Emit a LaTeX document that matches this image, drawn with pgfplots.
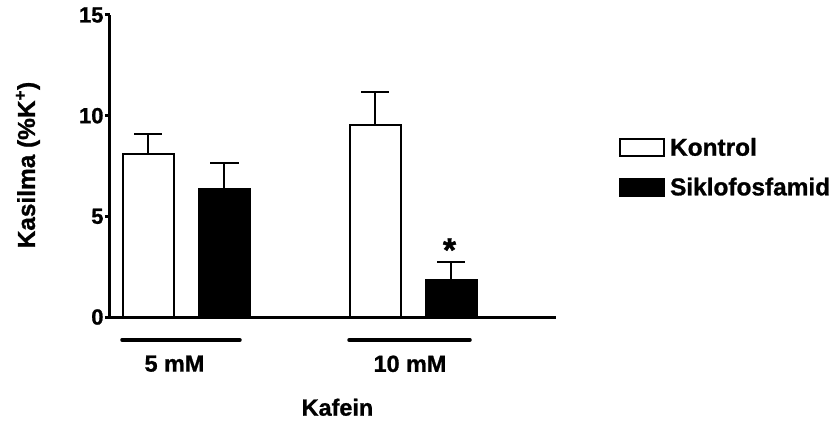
\documentclass[border=0pt]{standalone}
\usepackage{fontspec}
\setmainfont{Liberation Sans}[BoldFeatures={FakeBold=1}]
\usepackage{pgfplots}
\pgfplotsset{compat=1.18}
\begin{document}
\begin{tikzpicture}[x=1bp,y=1bp]
\path[use as bounding box] (-110bp,-108bp) rectangle (724bp,317bp);
\begin{axis}[
  at={(0,0)}, anchor=south west,
  scale only axis, width=446bp, height=302bp,
  xmin=0, xmax=446, ymin=0, ymax=15,
  axis lines*=left,
  axis line style={line width=3bp, -},
  ytick={0,5,10,15},
  xtick={64.5,300}, xticklabels={5 mM,10 mM},
  x tick label style={font=\fontsize{23.5}{25}\selectfont\bfseries, yshift=-30bp},
  y tick label style={font=\fontsize{22}{24}\selectfont\bfseries, xshift=2bp},
  /pgf/number format/assume math mode=true,
  tick align=outside,
  major tick length=5bp,
  major tick style={line width=3bp, black},
  x tick style={draw=none},
  ylabel={Kasilma (\%K\textsuperscript{+})},
  ylabel style={font=\fontsize{24.5}{26}\selectfont\bfseries, at={(axis description cs:-0.184,0.503)}, anchor=center},
  xlabel={Kafein},
  xlabel style={font=\fontsize{23.5}{25}\selectfont\bfseries, at={(axis description cs:0.510,-0.299)}, anchor=center},
  clip=false,
  axis on top,
  legend style={draw=none, fill=none, at={(axis description cs:1.141,0.600)}, anchor=north west,
    font=\fontsize{24.5}{26}\selectfont\bfseries, row sep=16.5bp, inner sep=0pt},
  legend cell align=left,
  legend image code/.code={\draw[#1, line width=2bp] (0bp,-8.5bp) rectangle (44bp,8.5bp); \path (47bp,0bp);},
]
\addplot[ybar, bar width=51, bar shift=0pt, draw=black, fill=white, line width=2bp,
  error bars/.cd, y dir=plus, y explicit,
  error bar style={line width=2bp, black},
  error mark options={rotate=90, mark size=14bp, line width=2bp, black}]
  coordinates {(38.5,8.09) +- (0,1.0) (265,9.53) +- (0,1.67)};
\addlegendentry{Kontrol}
\addplot[ybar, bar width=51, bar shift=0pt, draw=black, fill=black, line width=2bp,
  error bars/.cd, y dir=plus, y explicit,
  error bar style={line width=2bp, black},
  error mark options={rotate=90, mark size=14bp, line width=2bp, black}]
  coordinates {(114.5,6.35) +- (0,1.29) (341,1.84) +- (0,0.89)};
\addlegendentry{Siklofosfamid}
\draw[line width=3.5bp, line cap=round] (axis cs:12,-1.14) -- (axis cs:130,-1.14);
\draw[line width=3.5bp, line cap=round] (axis cs:239,-1.14) -- (axis cs:360,-1.14);
\node[font=\fontsize{34}{34}\selectfont\bfseries] at (axis cs:339.5,3.33) {*};
\end{axis}
\end{tikzpicture}
\end{document}
